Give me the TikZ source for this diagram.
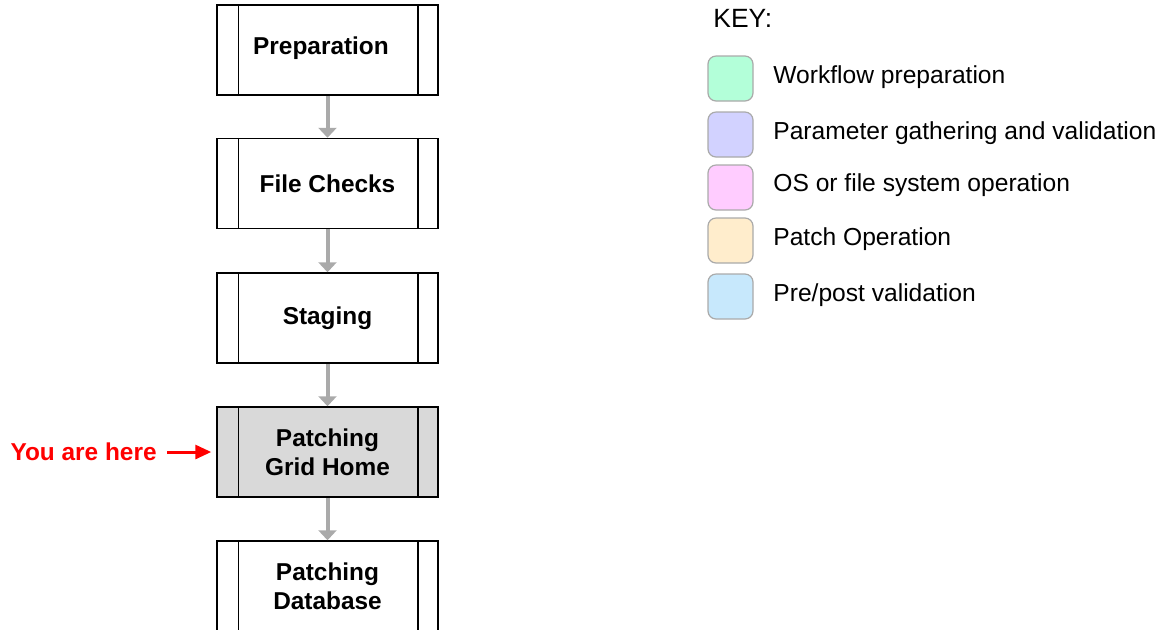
\documentclass[tikz,border=0pt]{standalone}
\usepackage{fontspec}
\setmainfont{Liberation Sans}
\usetikzlibrary{arrows.meta}
\definecolor{keygreen}{RGB}{179,255,217}
\definecolor{keyviolet}{RGB}{210,210,255}
\definecolor{keypink}{RGB}{255,204,255}
\definecolor{keypeach}{RGB}{255,237,204}
\definecolor{keyblue}{RGB}{199,232,252}
\definecolor{flowgray}{RGB}{170,170,170}
\definecolor{herefill}{RGB}{217,217,217}
\definecolor{hered}{RGB}{255,0,0}
\tikzset{
  stepbox/.style={draw=black, line width=0.75pt, fill=white, minimum width=110.5pt, minimum height=45pt,
    inner sep=0pt, align=center, font=\fontsize{12.2}{14.4}\selectfont\bfseries},
  oneline/.style={text depth=4.6pt},
  flow/.style={draw=flowgray, line width=2pt, -{Triangle[width=9pt,length=5pt]}},
  swatch/.style={draw=flowgray, line width=0.6pt, rounded corners=4pt, minimum size=22.5pt, inner sep=0pt},
  keytext/.style={anchor=west, inner sep=0pt, font=\fontsize{12.3}{14.4}\selectfont},
  sidebar/.style={draw=black, line width=0.75pt}
}
\begin{document}
\begin{tikzpicture}[x=0.5pt,y=-0.5pt]
\useasboundingbox (0,0) rectangle (1169,629);
\clip (0,0) rectangle (1169,629);
% flow boxes
\node[stepbox, oneline] (prep) at (327.5,50) {Preparation\hspace*{6.5pt}};
\node[stepbox] (file) at (327.5,183.5) {File Checks};
\node[stepbox] (stag) at (327.5,318) {Staging};
\node[stepbox, fill=herefill] (grid) at (327.5,452) {Patching\\Grid Home};
\node[stepbox] (db) at (327.5,586) {Patching\\Database};
\foreach \n in {prep,file,stag,grid,db}{
  \draw[sidebar] ([xshift=11pt]\n.north west) -- ([xshift=11pt]\n.south west);
  \draw[sidebar] ([xshift=-10.5pt]\n.north east) -- ([xshift=-10.5pt]\n.south east);
}
% connectors
\draw[flow] (prep) -- (file);
\draw[flow] (file) -- (stag);
\draw[flow] (stag) -- (grid);
\draw[flow] (grid) -- (db);
% you are here
\node[anchor=east, inner sep=0pt, text=hered, font=\fontsize{12.2}{14.4}\selectfont\bfseries] (here) at (157,452) {You are here};
\draw[hered, line width=1.5pt, -{Triangle[width=7pt,length=8pt]}, shorten >=2.5pt] ([xshift=5pt]here.east) -- (grid.west);
% key
\node[anchor=west, inner sep=0pt, font=\fontsize{13.2}{15}\selectfont] (key) at (713,18) {KEY:};
\node[swatch, fill=keygreen] (s1) at (730.5,78.5) {};
\node[swatch, fill=keyviolet] (s2) at (730.5,134.5) {};
\node[swatch, fill=keypink] (s3) at (730.5,187.5) {};
\node[swatch, fill=keypeach] (s4) at (730.5,240.5) {};
\node[swatch, fill=keyblue] (s5) at (730.5,296.5) {};
\node[keytext] (k1) at (773,77) {Workflow preparation};
\node[keytext] (k2) at (773,133) {Parameter gathering and validation};
\node[keytext] (k3) at (773,185) {OS or file system operation};
\node[keytext] (k4) at (773,239) {Patch Operation};
\node[keytext] (k5) at (773,295) {Pre/post validation};
\end{tikzpicture}
\end{document}
